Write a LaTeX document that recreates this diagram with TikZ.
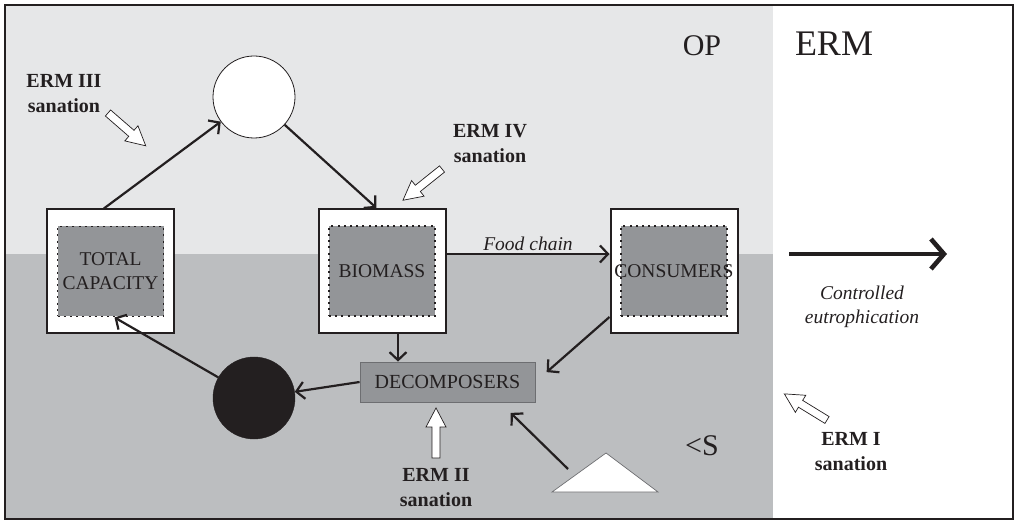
\documentclass[tikz,border=0pt]{standalone}
\usepackage{fontspec}
\setmainfont{Liberation Serif}
\usetikzlibrary{arrows.meta,calc}
\definecolor{lg}{HTML}{E6E7E8}
\definecolor{dg}{HTML}{BCBEC0}
\definecolor{bx}{HTML}{939598}
\definecolor{ink}{HTML}{231F20}
\definecolor{edge}{HTML}{6D6E71}
\begin{document}
\begin{tikzpicture}[x=1pt,y=-1pt,
  outbox/.style={draw=ink, line width=2pt, fill=white, minimum width=127pt, minimum height=124pt, inner sep=0pt},
  inbox/.style={draw=ink, fill=bx, dash pattern=on 2pt off 4.2pt, line width=1.9pt, minimum width=106pt, minimum height=90pt, inner sep=0pt},
  boxtxt/.style={font=\fontsize{19.5}{24}\selectfont, text=ink, align=center, inner sep=0pt},
  arr/.style={draw=ink, line width=2.2pt, -{Straight Barb[length=8pt,width=17pt,line width=2.2pt]}},
  erm/.style={font=\bfseries\fontsize{20}{25}\selectfont, text=ink, align=center},
  ital/.style={font=\itshape\fontsize{19.5}{24}\selectfont, text=ink, align=center},
  big/.style={font=\fontsize{30}{34}\selectfont, text=ink},
  harr/.pic={\draw[draw=ink, line width=0.7pt, fill=white, line join=miter] (0,-4) -- (31,-4) -- (31,-10) -- (50,0) -- (31,10) -- (31,4) -- (0,4) -- cycle;}
]
\useasboundingbox (0,0) rectangle (1015,521);
% background zones
\fill[lg] (6,6) rectangle (773,254);
\fill[dg] (6,254) rectangle (773,518);
\draw[ink, line width=1.4pt] (5,5) rectangle (1013,519);
\draw[ink, line width=2.2pt] (5,519) -- (5,5) -- (1013,5);

% boxes
\node[outbox] (tcO) at (110.5,271.5) {};
\node[inbox, label={[boxtxt]center:TOTAL\\CAPACITY}] (tcI) at (110.5,271.5) {};
\node[outbox] (bioO) at (382,271) {};
\node[inbox, label={[boxtxt]center:BIOMASS}] (bioI) at (382,271) {};
\node[outbox] (consO) at (674,271) {};
\node[inbox, label={[boxtxt]center:CONSUMERS}] (consI) at (674,271) {};

% circles
\node[circle, draw=ink, line width=0.8pt, fill=white, minimum size=82pt, inner sep=0pt] (wc) at (254,97) {};
\node[circle, draw=ink, fill=ink, minimum size=82pt, inner sep=0pt] (bc) at (254,398) {};

% decomposers
\node[draw=edge, line width=0.8pt, fill=bx, minimum width=175pt, minimum height=40pt, inner sep=0pt, font=\fontsize{20}{24}\selectfont, text=ink] (deco) at (447.5,382) {DECOMPOSERS};

% triangle
\coordinate (tA) at (552,492);
\coordinate (tB) at (606,453);
\coordinate (tC) at (658,492);
\draw[draw=edge, line width=0.7pt, fill=white] (tA) -- (tB) -- (tC) -- cycle;
\coordinate (triS) at (568,469);

% connectors
\draw[arr] (tcO.96) -- (wc);
\draw[arr] (wc) -- (bioO.95);
\draw[arr] ($(bioO.east)+(0,-17)$) -- node[ital, above, yshift=-1pt] (fc) {Food chain} ($(consO.west)+(0,-17)$);
\coordinate (bd) at ($(bioO.south)+(16,0)$);
\draw[arr] (bd) -- (bd |- deco.north);
\coordinate (cd) at ($(consO.west)+(0,46)$);
\draw[arr, shorten >=15pt] (cd) -- (deco.east);
\draw[arr, shorten >=15pt] (triS) -- ($(deco.south)+(52.5,0)$);
\draw[arr] (deco.west) -- (bc);
\draw[arr] (bc) -- ($(tcI.south)+(4,0)$);

% big arrow
\coordinate (ceS) at (789,254);
\coordinate (ceE) at (947,254);
\draw[draw=ink, line width=4.6pt, -{Straight Barb[length=13pt,width=30pt,line width=4.6pt]}] (ceS) -- (ceE);
\node[ital] (ce) at (862,307) {Controlled\\eutrophication};

% zone labels
\node[big] (op) at (702,46) {OP};
\node[font=\fontsize{36}{40}\selectfont, text=ink] (ermT) at (834,44) {ERM};
\node[big] (ls) at (702,446) {<S};

% sanation arrows
\pic[rotate=-41] (p3) at (108,113) {harr};
\pic[rotate=-141.3] (p4) at (442,169) {harr};
\pic[rotate=90] (p2) at (436,458) {harr};
\pic[rotate=148.5] (p1) at (827,420) {harr};

% sanation labels
\node[erm] (l3) at (64,94) {ERM III\\sanation};
\node[erm] (l4) at (490,143.5) {ERM IV\\sanation};
\node[erm] (l2) at (436,487.5) {ERM II\\sanation};
\node[erm] (l1) at (851,452) {ERM I\\sanation};
\end{tikzpicture}
\end{document}
